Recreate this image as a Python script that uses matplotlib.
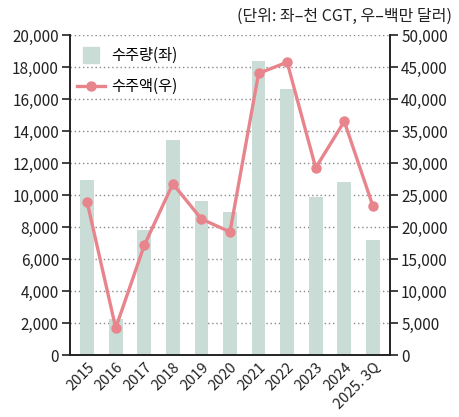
import numpy as np
import matplotlib.pyplot as plt
from matplotlib.ticker import FuncFormatter
from matplotlib.legend_handler import HandlerPatch
from matplotlib.patches import Rectangle

plt.rcParams['font.family'] = ['Noto Sans CJK KR', 'DejaVu Sans']

years = ["2015", "2016", "2017", "2018", "2019", "2020", "2021", "2022", "2023", "2024", "2025. 3Q"]
volume = [10950, 2250, 7820, 13450, 9630, 8950, 18380, 16620, 9880, 10800, 7200]   # 천 CGT
amount = [23900, 4220, 17150, 26750, 21250, 19230, 44000, 45750, 29250, 36500, 23300]  # 백만 달러

bar_color = "#c9ddd6"
line_color = "#e8848c"


def square_patch(legend, orig_handle, xdescent, ydescent, width, height, fontsize):
    s = height * 1.5
    return Rectangle((xdescent + (width - s) / 2, ydescent + (height - s) / 2), s, s)


fig = plt.figure(figsize=(4.6, 4.17), dpi=100)
ax = fig.add_axes([70 / 460, 1 - 355 / 417, 320 / 460, 320 / 417])
ax2 = ax.twinx()

x = np.arange(len(years))
ax.bar(x, volume, width=0.48, color=bar_color, zorder=2)
line, = ax2.plot(x, amount, color=line_color, lw=2.4, marker="o", ms=6.5, zorder=3)

ax.set_xlim(-0.6, len(years) - 0.4)
ax.set_ylim(0, 20000)
ax2.set_ylim(0, 50000)
ax.set_yticks(np.arange(0, 20001, 2000))
ax2.set_yticks(np.arange(0, 50001, 5000))
fmt = FuncFormatter(lambda v, p: f"{int(v):,}")
ax.yaxis.set_major_formatter(fmt)
ax2.yaxis.set_major_formatter(fmt)

ax.grid(axis="y", linestyle=(0, (1, 2)), color="#888888", lw=1, zorder=0)
ax.set_axisbelow(True)

for a in (ax, ax2):
    a.spines["top"].set_visible(False)
    for s in ("left", "right", "bottom"):
        a.spines[s].set_color("#222222")
        a.spines[s].set_linewidth(1.2)
    a.tick_params(axis="y", length=6, width=1.2, color="#222222", labelsize=11, labelcolor="#222222", pad=2)

ax.set_xticks(x)
ax.set_xticklabels(years, rotation=45, ha="right", rotation_mode="anchor")
ax.tick_params(axis="x", length=0, labelsize=10.5, labelcolor="#222222", pad=4)

ax.set_zorder(ax2.get_zorder() - 1)
ax.patch.set_visible(False)
box = Rectangle((0, 0), 1, 1, color=bar_color)
ax2.legend([box, line], ["수주량(좌)", "수주액(우)"], loc="upper left", frameon=False, fontsize=11,
           bbox_to_anchor=(1 / 320, 1 - 6 / 320), borderaxespad=0,
           handlelength=1.8, handletextpad=0.45, labelspacing=0.9,
           handler_map={Rectangle: HandlerPatch(patch_func=square_patch)})

fig.text(452 / 460, 1 - 16 / 417, "(단위: 좌–천 CGT, 우–백만 달러)", ha="right", va="center",
         fontsize=11.5, color="#222222")

fig.savefig("out.png", dpi=100)
